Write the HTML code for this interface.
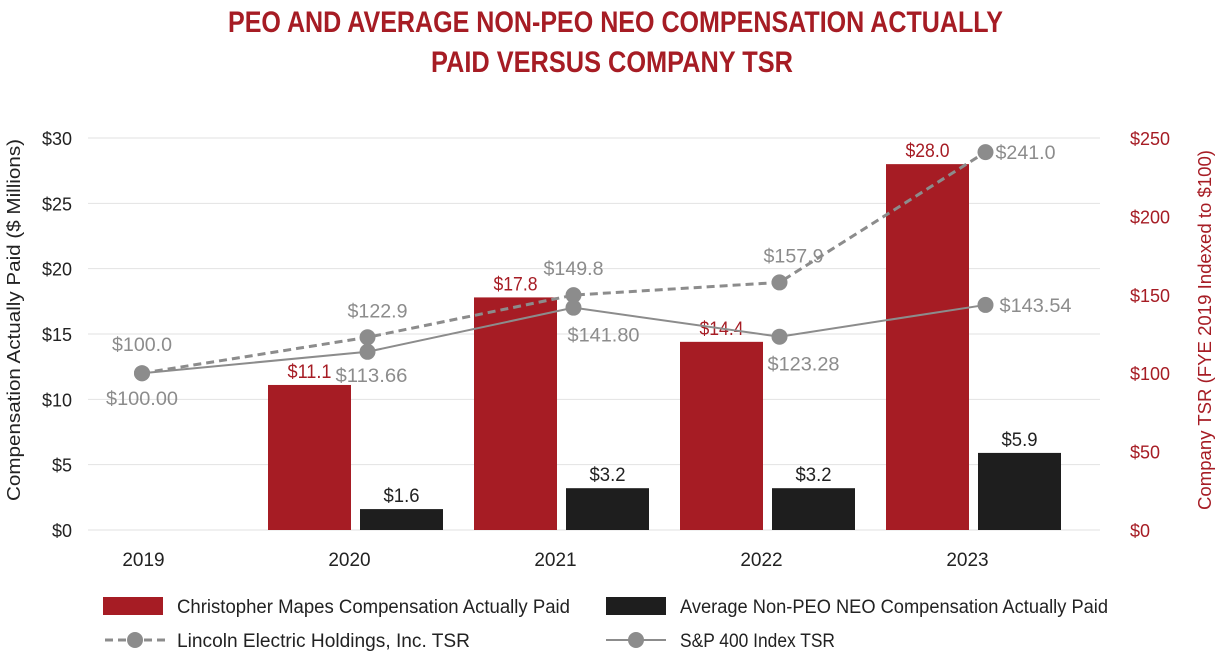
<!DOCTYPE html>
<html><head><meta charset="utf-8"><style>
body{margin:0;background:#fff;}
svg text{font-family:"Liberation Sans Narrow","Liberation Sans",sans-serif;}
</style></head><body>
<svg id="c" width="1222" height="658"></svg>
<script>
const categories=["2019","2020","2021","2022","2023"];
const peoValues=[null,11.1,17.8,14.4,28.0];
const neoValues=[null,1.6,3.2,3.2,5.9];
const lincolnTSR=[100.0,122.9,149.8,157.9,241.0];
const spTSR=[100.00,113.66,141.80,123.28,143.54];
const leftTicks=[0,5,10,15,20,25,30];
const rightTicks=[0,50,100,150,200,250];

const RED="#a61c24",DARK="#1e1e1e",GRAY="#8c8c8c";
const svg=document.getElementById('c');
const NS="http://www.w3.org/2000/svg";
function mk(t,a,p){const e=document.createElementNS(NS,t);for(const k in a)e.setAttribute(k,a[k]);(p||svg).appendChild(e);return e;}
function txt(s,a){const e=mk('text',a);e.textContent=s;return e;}
const y0=530,yTop=138;
const yL=v=>y0-(v/30)*(y0-yTop);
const yR=v=>y0-(v/250)*(y0-yTop);
const cx=i=>149.5+i*206;

let t=txt("PEO AND AVERAGE NON-PEO NEO COMPENSATION ACTUALLY",{x:228,y:32,'font-size':30,'font-weight':'bold',fill:RED,textLength:775,lengthAdjust:'spacingAndGlyphs'});

t=txt("PAID VERSUS COMPANY TSR",{x:431,y:72,'font-size':30,'font-weight':'bold',fill:RED,textLength:362,lengthAdjust:'spacingAndGlyphs'});


leftTicks.forEach(v=>{
  const l=mk('line',{x1:88,x2:1100,y1:yL(v),y2:yL(v),stroke:'#e2e2e2','stroke-width':1});
  
  const e=txt("$"+v,{x:72,y:yL(v)+7,'text-anchor':'end','font-size':18,fill:'#222'});
  
});
rightTicks.forEach(v=>{
  const e=txt("$"+v,{x:1130,y:yR(v)+7,'text-anchor':'start','font-size':18,fill:RED});
  
});
categories.forEach((c,i)=>{
  const e=txt(c,{x:cx(i)-6,y:566,'text-anchor':'middle','font-size':19,fill:'#222'});
  
});
t=txt("Compensation Actually Paid ($ Millions)",{x:0,y:0,transform:'translate(20,320) rotate(-90)','text-anchor':'middle','font-size':18,fill:'#222',textLength:362,lengthAdjust:'spacingAndGlyphs'});

t=txt("Company TSR (FYE 2019 Indexed to $100)",{x:0,y:0,transform:'translate(1211,330) rotate(-90)','text-anchor':'middle','font-size':18,fill:RED,textLength:360,lengthAdjust:'spacingAndGlyphs'});


const bw=83;
categories.forEach((c,i)=>{
  if(peoValues[i]!=null){
    const x=cx(i)-bw-4.5;
    const r=mk('rect',{x:x,y:yL(peoValues[i]),width:bw,height:y0-yL(peoValues[i]),fill:RED});
    
    const l=txt("$"+peoValues[i].toFixed(1),{x:x+bw/2,y:yL(peoValues[i])-7,'text-anchor':'middle','font-size':19,fill:RED,textLength:44,lengthAdjust:'spacingAndGlyphs'});
    
  }
  if(neoValues[i]!=null){
    const x=cx(i)+4.5;
    const r=mk('rect',{x:x,y:yL(neoValues[i]),width:bw,height:y0-yL(neoValues[i]),fill:DARK});
    
    const l=txt("$"+neoValues[i].toFixed(1),{x:x+bw/2,y:yL(neoValues[i])-7,'text-anchor':'middle','font-size':19,fill:'#222',textLength:36,lengthAdjust:'spacingAndGlyphs'});
    
  }
});

const px=i=>i==0?142:cx(i)+12;
function series(vals,dash,name,fmt,offs,lens){
  const pts=vals.map((v,i)=>px(i)+","+yR(v)).join(" ");
  const pl=mk('polyline',{points:pts,fill:'none',stroke:GRAY,'stroke-width':dash?3:2,'stroke-dasharray':dash?'8,5':'none'});
  
  vals.forEach((v,i)=>{
    const c=mk('circle',{cx:px(i),cy:yR(v),r:8,fill:GRAY});
    
    const o=offs[i];
    const l=txt("$"+v.toFixed(fmt),{x:px(i)+o[0],y:yR(v)+o[1],'text-anchor':o[2],'font-size':19,fill:GRAY,textLength:lens,lengthAdjust:'spacingAndGlyphs'});
    
  });
}
series(lincolnTSR,true,'lincoln-tsr',1,[[0,-22,'middle'],[10,-20,'middle'],[0,-20,'middle'],[14,-20,'middle'],[10,7,'start']],60);
series(spTSR,false,'sp400-tsr',2,[[0,32,'middle'],[4,30,'middle'],[30,34,'middle'],[24,34,'middle'],[14,7,'start']],72);

let e=mk('rect',{x:103,y:597,width:60,height:18,fill:RED});

e=txt("Christopher Mapes Compensation Actually Paid",{x:177,y:613,'font-size':19,fill:'#222',textLength:393,lengthAdjust:'spacingAndGlyphs'});

e=mk('rect',{x:606,y:597,width:60,height:18,fill:DARK});

e=txt("Average Non-PEO NEO Compensation Actually Paid",{x:680,y:613,'font-size':19,fill:'#222',textLength:428,lengthAdjust:'spacingAndGlyphs'});

e=mk('line',{x1:105,x2:165,y1:640,y2:640,stroke:GRAY,'stroke-width':3,'stroke-dasharray':'8,5'});

e=mk('circle',{cx:135,cy:640,r:8,fill:GRAY});

e=txt("Lincoln Electric Holdings, Inc. TSR",{x:177,y:647,'font-size':19,fill:'#222',textLength:293,lengthAdjust:'spacingAndGlyphs'});

e=mk('line',{x1:606,x2:666,y1:640,y2:640,stroke:GRAY,'stroke-width':2});

e=mk('circle',{cx:636,cy:640,r:8,fill:GRAY});

e=txt("S&P 400 Index TSR",{x:680,y:647,'font-size':19,fill:'#222',textLength:155,lengthAdjust:'spacingAndGlyphs'});

</script>
</body></html>
